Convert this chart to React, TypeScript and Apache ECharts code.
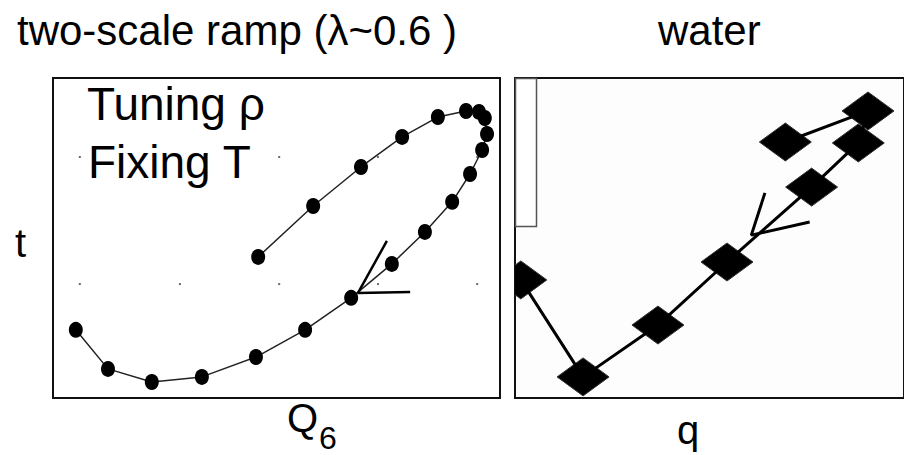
import React, { useEffect, useRef } from "react";
import * as echarts from "echarts";

// ---- data (left panel: Q6 vs t, right panel: q vs t) ----
const leftQ6 = [45.9, 58.2, 68.9, 78.1, 86.1, 92.4, 95.3, 96.6, 97.1, 96.0, 93.3, 89.3, 83.2, 75.8, 66.7, 56.4, 45.4, 33.3, 22.1, 12.3, 5.1];
const leftT = [44.1, 60.0, 72.2, 81.6, 87.8, 89.7, 89.4, 87.5, 82.5, 77.5, 70.0, 61.3, 51.9, 41.9, 31.3, 21.3, 12.8, 6.6, 5.0, 9.1, 21.3];
const leftArrowQ6 = [74.7, 68.2, 79.9];
const leftArrowT = [49.1, 32.8, 33.1];
const gridDotQ6 = [6.0, 50.6, 72.7, 94.9, 6.0, 28.4, 50.6, 72.7, 94.9];
const gridDotT = [75.3, 75.3, 75.3, 75.3, 35.6, 35.6, 35.6, 35.6, 35.6];

const rightQ = [1.5, 17.5, 36.75, 54.5, 76.25, 88.25, 90.75, 69.5];
const rightT = [36.9, 6.6, 22.8, 42.5, 65.9, 79.7, 89.7, 80.0];
const rightArrowQ = [64.25, 60.75, 75.75];
const rightArrowT = [64.1, 50.9, 55.0];

const titleLeft = "two-scale ramp (λ~0.6 )";
const titleRight = "water";
const noteLines = ["Tuning ρ", "Fixing T"];
const yName = "t";
const xNameLeft = "Q";
const xNameLeftSub = "6";
const xNameRight = "q";

const FONT = "'Liberation Sans', Arial, Helvetica, sans-serif";

const pairs = (xs: number[], ys: number[]) => xs.map((x, i) => [x, ys[i]]);

export default function App() {
  const ref = useRef<HTMLDivElement>(null);
  useEffect(() => {
    if (!ref.current) return;
    const chart = echarts.init(ref.current, null, { renderer: "svg" });
    const axisBase = { type: "value" as const, min: 0, max: 100, show: false };
    const txt = (text: string, x: number, y: number, size: number, align = "left") => ({
      type: "text",
      x,
      y,
      z: 100,
      style: {
        text,
        fill: "#000",
        font: `${size}px ${FONT}`,
        textAlign: align,
        textVerticalAlign: "middle",
      },
    });
    chart.setOption({
      animation: false,
      backgroundColor: "#fff",
      grid: [
        { left: 53, top: 78, width: 447, height: 320, show: true, borderColor: "#111", borderWidth: 2, backgroundColor: "#fff" },
        { left: 515, top: 78, width: 400, height: 320, show: true, borderColor: "#111", borderWidth: 2, backgroundColor: "#fdfdfd" },
      ],
      xAxis: [
        { ...axisBase, gridIndex: 0 },
        { ...axisBase, gridIndex: 1 },
      ],
      yAxis: [
        { ...axisBase, gridIndex: 0 },
        { ...axisBase, gridIndex: 1 },
      ],
      series: [
        {
          type: "scatter",
          xAxisIndex: 0,
          yAxisIndex: 0,
          data: pairs(gridDotQ6, gridDotT),
          symbol: "rect",
          symbolSize: 2,
          itemStyle: { color: "#444" },
          silent: true,
        },
        {
          type: "line",
          xAxisIndex: 0,
          yAxisIndex: 0,
          data: pairs(leftQ6, leftT),
          symbol: "circle",
          symbolSize: [14, 16],
          itemStyle: { color: "#000" },
          lineStyle: { color: "#222", width: 1.5 },
          silent: true,
        },
        {
          type: "line",
          xAxisIndex: 0,
          yAxisIndex: 0,
          data: pairs(leftArrowQ6, leftArrowT),
          symbol: "none",
          lineStyle: { color: "#000", width: 2.5 },
          silent: true,
        },
        {
          type: "line",
          xAxisIndex: 1,
          yAxisIndex: 1,
          data: pairs(rightQ, rightT),
          symbol: "none",
          lineStyle: { color: "#000", width: 3 },
          silent: true,
        },
        {
          type: "custom",
          xAxisIndex: 1,
          yAxisIndex: 1,
          clip: true,
          encode: { x: 0, y: 1 },
          data: pairs(rightQ, rightT),
          renderItem: (_params: any, api: any) => {
            const p = api.coord([api.value(0), api.value(1)]);
            const hw = 26;
            const hh = 19;
            return {
              type: "polygon",
              shape: {
                points: [
                  [p[0] - hw, p[1]],
                  [p[0], p[1] - hh],
                  [p[0] + hw, p[1]],
                  [p[0], p[1] + hh],
                ],
              },
              style: { fill: "#000", stroke: "#333", lineWidth: 1 },
            };
          },
          silent: true,
        },
        {
          type: "line",
          xAxisIndex: 1,
          yAxisIndex: 1,
          data: pairs(rightArrowQ, rightArrowT),
          symbol: "none",
          lineStyle: { color: "#000", width: 3 },
          silent: true,
        },
      ],
      graphic: [
        {
          type: "rect",
          z: 50,
          shape: { x: 515.5, y: 78.5, width: 21, height: 148 },
          style: { fill: "#fff", stroke: "#555", lineWidth: 1.5 },
        },
        txt(titleLeft, 17, 30, 42),
        txt(titleRight, 658, 30, 42),
        txt(noteLines[0], 87, 104, 46),
        txt(noteLines[1], 88, 162, 46),
        txt(yName, 15, 243, 40),
        txt(xNameLeft, 287, 418, 40),
        txt(xNameLeftSub, 319, 438, 32),
        txt(xNameRight, 677, 430, 40),
      ],
    });
    return () => chart.dispose();
  }, []);
  return (
    <div
      ref={ref}
      style={{ position: "fixed", left: 0, top: 0, width: 904, height: 455, background: "#fff" }}
    />
  );
}
